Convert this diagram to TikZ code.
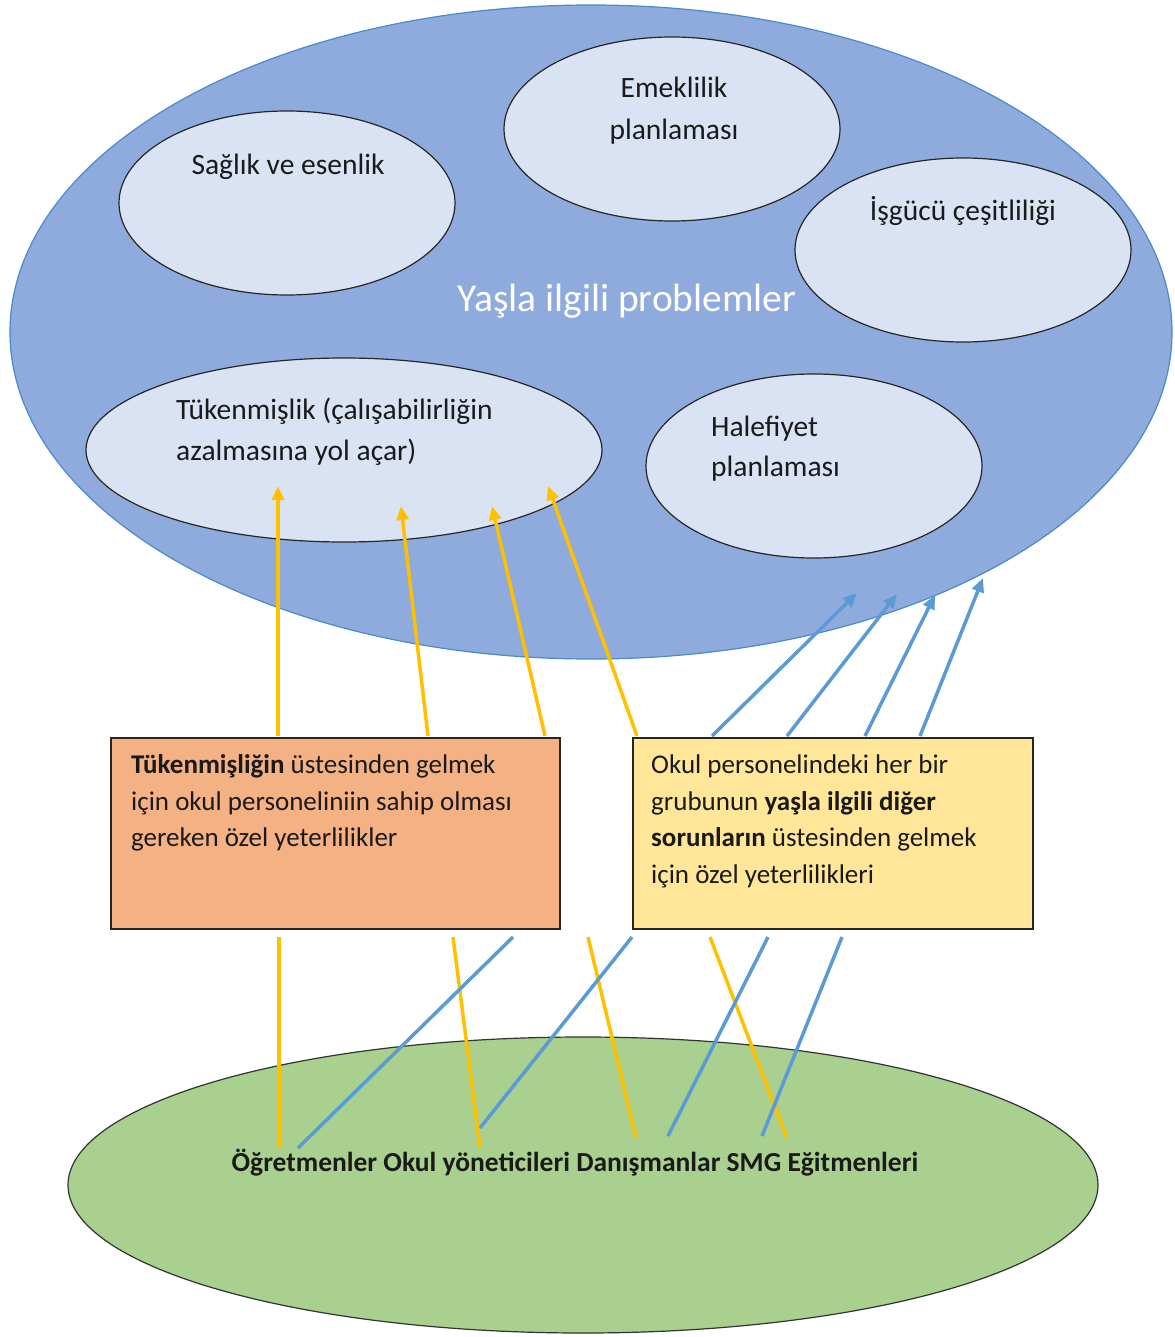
\documentclass[tikz,border=0pt]{standalone}
\usepackage{fontspec}
\setmainfont{Carlito}
\usetikzlibrary{shapes.geometric,arrows.meta}
\definecolor{bigblue}{HTML}{8FAADC}
\definecolor{bigedge}{HTML}{4A8ACB}
\definecolor{paleblue}{HTML}{DAE3F3}
\definecolor{orangefill}{HTML}{F4B183}
\definecolor{yellowfill}{HTML}{FFE699}
\definecolor{greenfill}{HTML}{A9D08E}
\definecolor{gold}{HTML}{FFC000}
\definecolor{linkblue}{HTML}{5B9BD5}
\definecolor{txt}{HTML}{1A1A1A}
\tikzset{
  topic/.style={ellipse, draw=black!85, line width=1.2pt, fill=paleblue, inner sep=0pt},
  card/.style={rectangle, draw=black!85, line width=1.2pt, inner sep=0pt},
  elbl/.style={text=txt, font=\fontsize{29.5}{36}\selectfont, inner sep=0pt},
  blbl/.style={text=txt, font=\fontsize{27}{33}\selectfont, inner sep=0pt, anchor=base west},
  goldarrow/.style={gold, line width=3.5pt, -{Triangle[length=14pt,width=12pt]}},
  bluearrow/.style={linkblue, line width=3.5pt, -{Triangle[length=14pt,width=12pt]}},
  goldline/.style={gold, line width=3.5pt},
  blueline/.style={linkblue, line width=3.5pt},
}
\begin{document}
\begin{tikzpicture}[x=1pt,y=-1pt]
\useasboundingbox (0,0) rectangle (1174,1337);
% big ellipse
\node[ellipse, draw=bigedge, line width=1.2pt, fill=bigblue, minimum width=1162pt, minimum height=654pt, inner sep=0pt] (big) at (591,332) {};
\node[text=white, font=\fontsize{39.5}{44}\selectfont, inner sep=0pt, anchor=base] (title) at (627,311) {Yaşla ilgili problemler};
% topic ellipses
\node[topic, minimum width=336pt, minimum height=184pt] (saglik) at (287,203) {};
\node[topic, minimum width=336pt, minimum height=184pt] (emek) at (672,129) {};
\node[topic, minimum width=336pt, minimum height=184pt] (isg) at (963,250) {};
\node[topic, minimum width=516pt, minimum height=184pt] (tuk) at (344,450) {};
\node[topic, minimum width=336pt, minimum height=184pt] (hal) at (814,466) {};
\node[elbl, anchor=base] (tsaglik) at (288,175) {Sağlık ve esenlik};
\node[elbl, anchor=base] (temek1) at (674,98) {Emeklilik};
\node[elbl, anchor=base] (temek2) at (674,140) {planlaması};
\node[elbl, anchor=base] (tisg) at (963,221) {İşgücü çeşitliliği};
\node[elbl, anchor=base west] (ttuk1) at (176,419) {Tükenmişlik (çalışabilirliğin};
\node[elbl, anchor=base west] (ttuk2) at (176,460) {azalmasına yol açar)};
\node[elbl, anchor=base west] (thal1) at (711,436) {Halefiyet};
\node[elbl, anchor=base west] (thal2) at (711,476) {planlaması};
% green ellipse
\node[ellipse, draw=black!80, line width=1.2pt, fill=greenfill, minimum width=1030pt, minimum height=296pt, inner sep=0pt] (green) at (583,1185) {};
% boxes
\node[card, fill=orangefill, minimum width=449pt, minimum height=191pt] (obox) at (335.5,833.5) {};
\node[card, fill=yellowfill, minimum width=400pt, minimum height=191pt] (ybox) at (833,833.5) {};
\node[blbl] (to1) at (131,773) {\textbf{Tükenmişliğin} üstesinden gelmek};
\node[blbl] (to2) at (131,810) {için okul personeliniin sahip olması};
\node[blbl] (to3) at (131,846) {gereken özel yeterlilikler};
\node[blbl] (ty1) at (651,773) {Okul personelindeki her bir};
\node[blbl] (ty2) at (651,810) {grubunun \textbf{yaşla ilgili diğer}};
\node[blbl] (ty3) at (651,846) {\textbf{sorunların} üstesinden gelmek};
\node[blbl] (ty4) at (651,883) {için özel yeterlilikleri};
% upper arrows
\coordinate (oa1) at (278,736); \coordinate (oa1t) at (278,486);
\coordinate (oa2) at (428,736); \coordinate (oa2t) at (401,506);
\coordinate (oa3) at (545,736); \coordinate (oa3t) at (492,506);
\coordinate (oa4) at (637,736); \coordinate (oa4t) at (548,486);
\draw[goldarrow] (oa1) -- (oa1t);
\draw[goldarrow] (oa2) -- (oa2t);
\draw[goldarrow] (oa3) -- (oa3t);
\draw[goldarrow] (oa4) -- (oa4t);
\coordinate (ba1) at (712,736); \coordinate (ba1t) at (857,593);
\coordinate (ba2) at (787,736); \coordinate (ba2t) at (897,594);
\coordinate (ba3) at (865,736); \coordinate (ba3t) at (935,595);
\coordinate (ba4) at (920,736); \coordinate (ba4t) at (983,578);
\draw[bluearrow] (ba1) -- (ba1t);
\draw[bluearrow] (ba2) -- (ba2t);
\draw[bluearrow] (ba3) -- (ba3t);
\draw[bluearrow] (ba4) -- (ba4t);
% lower lines
\coordinate (ol1) at (279,937); \coordinate (ol1b) at (279,1148);
\coordinate (ol2) at (453,937); \coordinate (ol2b) at (480,1148);
\coordinate (ol3) at (588,937); \coordinate (ol3b) at (636,1138);
\coordinate (ol4) at (710,937); \coordinate (ol4b) at (787,1138);
\coordinate (bl1) at (513,937); \coordinate (bl1b) at (298,1148);
\coordinate (bl2) at (632,937); \coordinate (bl2b) at (480,1128);
\coordinate (bl3) at (768,937); \coordinate (bl3b) at (668,1136);
\coordinate (bl4) at (842,937); \coordinate (bl4b) at (762,1136);
\draw[goldline] (ol1) -- (ol1b);
\draw[goldline] (ol2) -- (ol2b);
\draw[goldline] (ol3) -- (ol3b);
\draw[goldline] (ol4) -- (ol4b);
\draw[blueline] (bl1) -- (bl1b);
\draw[blueline] (bl2) -- (bl2b);
\draw[blueline] (bl3) -- (bl3b);
\draw[blueline] (bl4) -- (bl4b);
\node[text=txt, inner sep=0pt, anchor=base, font=\fontsize{27.5}{33}\bfseries\selectfont] (groups) at (575,1171) {Öğretmenler Okul yöneticileri Danışmanlar SMG Eğitmenleri};
\end{tikzpicture}
\end{document}
